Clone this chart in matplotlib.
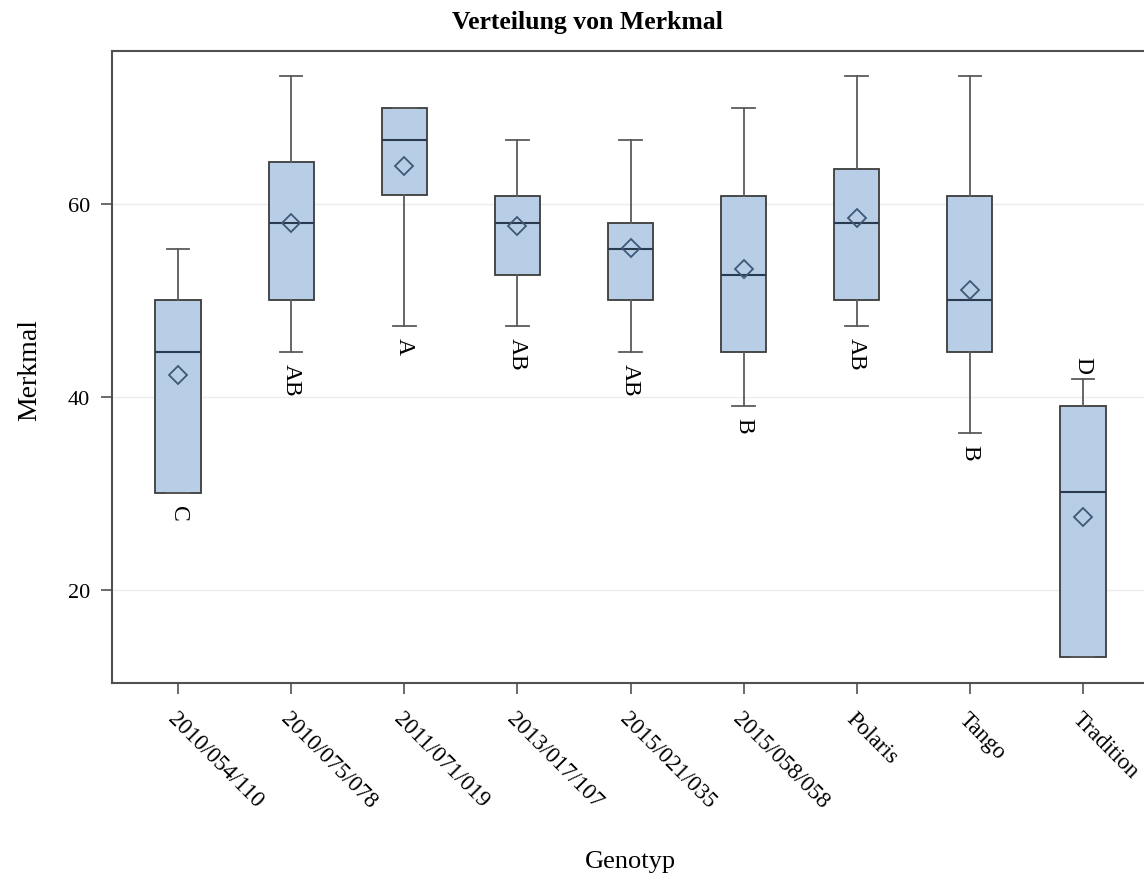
import matplotlib
matplotlib.use("Agg")
import matplotlib.pyplot as plt

# Summary statistics per genotype
genotypes = ["2010/054/110", "2010/075/078", "2011/071/019", "2013/017/107",
             "2015/021/035", "2015/058/058", "Polaris", "Tango", "Tradition"]
whisker_low = [30.0, 44.67, 47.33, 47.33, 44.67, 39.1, 47.33, 36.3, 13.1]
q1 = [30.0, 50.0, 60.9, 52.67, 50.0, 44.67, 50.0, 44.67, 13.1]
median = [44.67, 58.0, 66.67, 58.0, 55.33, 52.67, 58.0, 50.0, 30.15]
q3 = [50.0, 64.3, 69.9, 60.85, 58.0, 60.85, 63.6, 60.85, 39.05]
whisker_high = [55.33, 73.3, 69.9, 66.67, 66.67, 69.9, 73.3, 73.3, 41.9]
mean = [42.3, 58.0, 63.97, 57.7, 55.4, 53.3, 58.5, 51.1, 27.6]
letters = ["C", "AB", "A", "AB", "AB", "B", "AB", "B", "D"]
letter_above = [False, False, False, False, False, False, False, False, True]

yticks = [20, 40, 60]

plt.rcParams["font.family"] = ["Liberation Serif", "DejaVu Serif"]

W, H = 1144, 879
fig = plt.figure(figsize=(W / 100, H / 100), dpi=100)
ax = fig.add_axes([112 / W, 1 - 684 / H, (1149 - 112) / W, (684 - 52) / H])

stats = []
for i, name in enumerate(genotypes):
    stats.append(dict(label=name, whislo=whisker_low[i], q1=q1[i], med=median[i],
                      q3=q3[i], whishi=whisker_high[i], mean=mean[i], fliers=[]))

positions = list(range(len(genotypes)))
edge = "#3c3c3c"
ax.bxp(stats, positions=positions, widths=0.4, patch_artist=True,
       showmeans=True, showfliers=False,
       boxprops=dict(facecolor="#b8cde6", edgecolor=edge, linewidth=1.3),
       whiskerprops=dict(color="#5a5a5a", linewidth=1.3),
       capprops=dict(color="#5a5a5a", linewidth=1.3),
       capwidths=0.2,
       medianprops=dict(color="#2a3a4f", linewidth=1.5),
       meanprops=dict(marker="D", markersize=9.5, markerfacecolor="none",
                      markeredgecolor="#3e5878", markeredgewidth=1.3),
       zorder=3)

# Group letters next to each box
for i, let in enumerate(letters):
    if letter_above[i]:
        ax.annotate(let, (positions[i], whisker_high[i]), xytext=(0, 4),
                    textcoords="offset points", rotation=-90,
                    ha="center", va="bottom", fontsize=17, color="black")
    else:
        ax.annotate(let, (positions[i], whisker_low[i]), xytext=(0, -8),
                    textcoords="offset points", rotation=-90,
                    ha="center", va="top", fontsize=17, color="black")

ax.set_xlim(-0.584, 8.584)
ax.set_ylim(10.36, 75.85)
ax.set_yticks(yticks)
ax.set_yticklabels([str(v) for v in yticks], fontsize=16)
ax.set_xticks(positions)
ax.set_xticklabels(genotypes, fontsize=16.5, rotation=-45, ha="left",
                   va="top", rotation_mode="anchor")
ax.yaxis.grid(True, color="#ececec", linewidth=1.0, zorder=0)
ax.set_axisbelow(True)

for side in ["left", "bottom", "top", "right"]:
    ax.spines[side].set_color("#505050")
    ax.spines[side].set_linewidth(1.5)
ax.tick_params(axis="y", direction="out", length=8, width=1.2,
               color="#505050", pad=8)
ax.tick_params(axis="x", direction="out", length=8, width=1.2,
               color="#505050", pad=10)

fig.text(587 / W, 1 - 22 / H, "Verteilung von Merkmal", ha="center",
         va="center", fontsize=18.5, fontweight="bold")
fig.text(630 / W, 1 - 862 / H, "Genotyp", ha="center", va="center",
         fontsize=19)
fig.text(30 / W, 1 - 370 / H, "Merkmal", ha="center", va="center",
         rotation=90, fontsize=20)

fig.savefig("out.png", dpi=100, facecolor="white")
